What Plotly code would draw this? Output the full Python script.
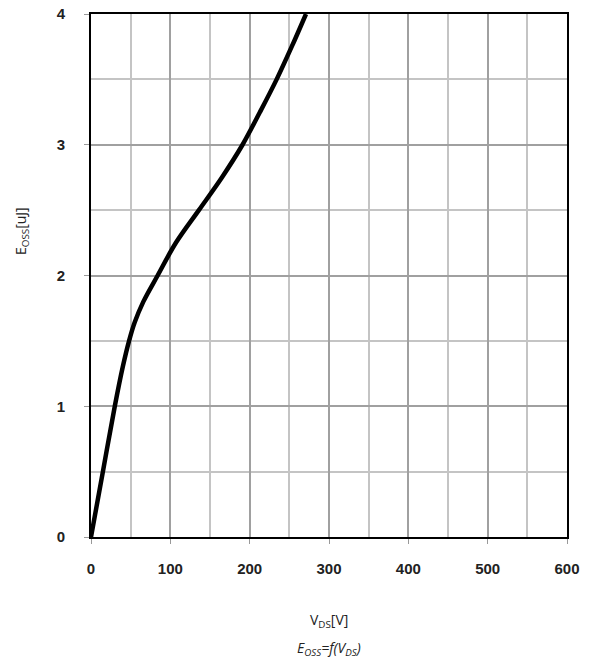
import plotly.graph_objects as go

vds = [0, 15, 30, 40, 48, 55, 66, 84, 107, 136, 165, 191, 213, 234, 253, 271]
eoss = [0, 0.5, 1.0, 1.3, 1.5, 1.64, 1.8, 2.0, 2.25, 2.5, 2.75, 3.0, 3.25, 3.5, 3.75, 4.0]

x_ticks = [0, 100, 200, 300, 400, 500, 600]
y_ticks = [0, 1, 2, 3, 4]

fig = go.Figure()
fig.add_trace(go.Scatter(x=vds, y=eoss, mode="lines",
                         line=dict(color="black", width=4.5, shape="spline", smoothing=1.0),
                         showlegend=False, cliponaxis=True))

tickfont = dict(family="Liberation Sans, Arial", size=15, color="#222", weight="bold")
titlefont = dict(family="Open Sans, Liberation Sans", size=14, color="#222")
fig.update_layout(
    width=598, height=666,
    margin=dict(l=91, r=31, t=14, b=129, autoexpand=False),
    paper_bgcolor="white", plot_bgcolor="white",
    xaxis=dict(range=[0, 600], tickvals=x_ticks, ticktext=[str(v) for v in x_ticks],
               showgrid=True, gridcolor="#a0a0a0", gridwidth=2,
               minor=dict(dtick=50, tick0=0, showgrid=True, gridcolor="#c4c4c4", gridwidth=2),
               ticks="outside", ticklen=5, tickcolor="#999", tickwidth=1,
               showline=True, linecolor="black", linewidth=2, mirror=True,
               zeroline=False, tickfont=tickfont, ticklabelstandoff=12, automargin=False),
    yaxis=dict(range=[0, 4], tickvals=y_ticks, ticktext=[str(v) for v in y_ticks],
               showgrid=True, gridcolor="#a0a0a0", gridwidth=2,
               minor=dict(dtick=0.5, tick0=0, showgrid=True, gridcolor="#c4c4c4", gridwidth=2),
               ticks="outside", ticklen=5, tickcolor="#999", tickwidth=1,
               showline=True, linecolor="black", linewidth=2, mirror=True,
               zeroline=False, tickfont=tickfont, ticklabelstandoff=16, automargin=False),
)

plot_h = 666 - 14 - 129
plot_w = 598 - 91 - 31
fig.add_annotation(text="V<sub>DS</sub>[V]", x=300, xref="x", y=(537 - 620) / plot_h, yref="paper",
                   showarrow=False, font=titlefont, xanchor="center", yanchor="middle")
fig.add_annotation(text="<i>E<sub>OSS</sub>=f(V<sub>DS</sub>)</i>", x=300, xref="x",
                   y=(537 - 648) / plot_h, yref="paper",
                   showarrow=False, font=titlefont, xanchor="center", yanchor="middle")
fig.add_annotation(text="E<sub>OSS</sub>[uJ]", x=(21 - 91) / plot_w, xref="paper",
                   y=(537 - 231) / plot_h, yref="paper", showarrow=False, textangle=-90,
                   font=titlefont, xanchor="center", yanchor="middle")

fig.write_html("out.html")
